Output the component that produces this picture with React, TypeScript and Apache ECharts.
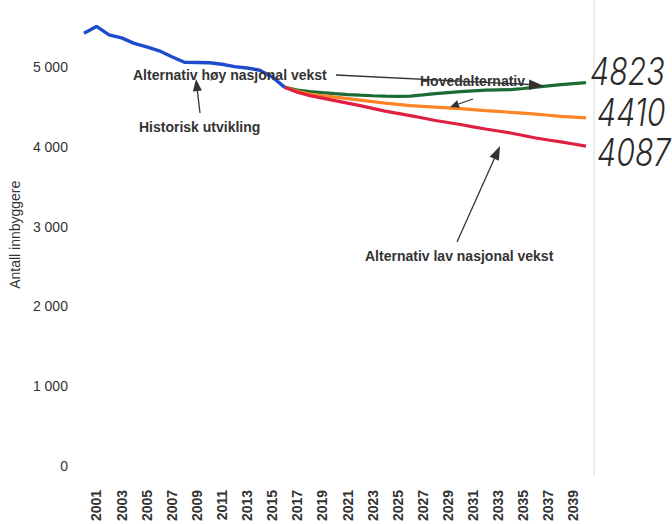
import React, { useEffect, useRef } from "react";
import * as echarts from "echarts";

const years: string[] = [];
for (let y = 2000; y <= 2040; y++) years.push(String(y));

// Historisk utvikling 2000-2016
const historisk = [5430, 5515, 5409, 5371, 5302, 5259, 5209, 5134, 5065, 5062, 5059, 5040, 5011, 4993, 4965, 4880, 4750];
// Projections 2016-2040
const hoy = [4750, 4715, 4696, 4683, 4671, 4660, 4652, 4645, 4640, 4638, 4640, 4655, 4671, 4684, 4696, 4706, 4715, 4718, 4721, 4736, 4752, 4768, 4784, 4797, 4810];
const hoved = [4750, 4700, 4665, 4645, 4627, 4608, 4590, 4570, 4552, 4536, 4521, 4511, 4502, 4493, 4484, 4471, 4459, 4448, 4437, 4426, 4415, 4400, 4386, 4377, 4368];
const lav = [4750, 4690, 4646, 4615, 4584, 4552, 4521, 4486, 4452, 4424, 4396, 4365, 4334, 4309, 4284, 4255, 4227, 4202, 4177, 4146, 4115, 4090, 4065, 4039, 4013];
const handNumbers = ["4823", "4410", "4087"];

const pad = (arr: number[], before: number, total: number) => {
  const out: (number | null)[] = [];
  for (let i = 0; i < before; i++) out.push(null);
  arr.forEach((v) => out.push(v));
  while (out.length < total) out.push(null);
  return out;
};

const FONT = "'Liberation Sans', Arial, sans-serif";

export default function App() {
  const ref = useRef<HTMLDivElement>(null);
  useEffect(() => {
    if (!ref.current) return;
    const chart = echarts.init(ref.current, null, { renderer: "svg" });
    const n = years.length;
    const txt = (text: string, x: number, y: number) => ({
      type: "text",
      z: 100,
      style: {
        text,
        x,
        y,
        fill: "#333",
        font: "bold 14px " + FONT,
        textAlign: "left",
        textVerticalAlign: "middle",
      },
    });
    const line = (x1: number, y1: number, x2: number, y2: number) => ({
      type: "line",
      z: 100,
      shape: { x1, y1, x2, y2 },
      style: { stroke: "#333", lineWidth: 1.3 },
    });
    const head = (pts: number[][]) => ({
      type: "polygon",
      z: 100,
      shape: { points: pts },
      style: { fill: "#333" },
    });
    const hand = (text: string, x: number, y: number) => ({
      type: "text",
      z: 100,
      x,
      y,
      scaleX: 0.8,
      style: {
        text,
        x: 0,
        y: 0,
        fill: "#2a2a2a",
        font: "italic 300 38px Inter, Lato, 'Open Sans', sans-serif",
        textAlign: "left",
        textVerticalAlign: "middle",
      },
    });
    chart.setOption({
      animation: false,
      backgroundColor: "#ffffff",
      grid: { left: 76, right: 86, top: 3.7, bottom: 56.3 },
      xAxis: {
        type: "category",
        data: years,
        boundaryGap: false,
        axisLine: { show: false },
        axisTick: { show: false },
        axisLabel: {
          rotate: 90,
          margin: 24,
          interval: (i: number) => i % 2 === 1,
          color: "#333",
          fontWeight: "bold",
          fontSize: 14,
          fontFamily: FONT,
        },
        splitLine: { show: false },
      },
      yAxis: {
        type: "value",
        min: 0,
        max: 5800,
        interval: 1000,
        name: "Antall innbyggere",
        nameLocation: "middle",
        nameGap: 58,
        nameTextStyle: { color: "#333", fontSize: 14, fontFamily: FONT },
        axisLine: { show: false },
        axisTick: { show: false },
        splitLine: { show: false },
        axisLabel: {
          margin: 16,
          color: "#333",
          fontSize: 14,
          fontFamily: FONT,
          formatter: (v: number) => (v % 1000 === 0 ? String(v).replace(/\B(?=(\d{3})+(?!\d))/g, " ") : ""),
        },
      },
      series: [
        { name: "Alternativ høy nasjonal vekst", type: "line", data: pad(hoy, 16, n), showSymbol: false, lineStyle: { color: "#1b6b32", width: 3.2 }, itemStyle: { color: "#1b6b32" } },
        { name: "Hovedalternativ", type: "line", data: pad(hoved, 16, n), showSymbol: false, lineStyle: { color: "#ff8426", width: 3.2 }, itemStyle: { color: "#ff8426" } },
        { name: "Alternativ lav nasjonal vekst", type: "line", data: pad(lav, 16, n), showSymbol: false, lineStyle: { color: "#e02040", width: 3.2 }, itemStyle: { color: "#e02040" } },
        { name: "Historisk utvikling", type: "line", data: pad(historisk, 0, n), showSymbol: false, lineStyle: { color: "#1f4ccc", width: 3.4 }, itemStyle: { color: "#1f4ccc" } },
      ],
      graphic: [
        { type: "line", z: 1, shape: { x1: 594, y1: 0, x2: 594, y2: 476 }, style: { stroke: "#ececec", lineWidth: 2 } },
        txt("Alternativ høy nasjonal vekst", 133, 75),
        line(336, 75, 529, 84.5),
        head([[544, 86], [528.8, 90], [529.2, 79.5]]),
        txt("Hovedalternativ", 420, 81),
        line(473, 99, 458.5, 104),
        head([[450, 107], [459.8, 107.8], [457.2, 100.2]]),
        txt("Historisk utvikling", 139, 127),
        line(200, 113, 197.4, 90.9),
        head([[196, 79], [201.9, 90.4], [192.9, 91.4]]),
        txt("Alternativ lav nasjonal vekst", 365, 256),
        line(457, 242, 494.3, 158.8),
        head([[500, 146], [498.9, 160.8], [489.7, 156.8]]),
        hand(handNumbers[0], 590, 71),
        hand(handNumbers[1], 597, 112),
        hand(handNumbers[2], 597, 152),
      ],
    });
    return () => chart.dispose();
  }, []);
  return <div ref={ref} style={{ position: "fixed", left: 0, top: 0, width: 672, height: 524 }} />;
}
